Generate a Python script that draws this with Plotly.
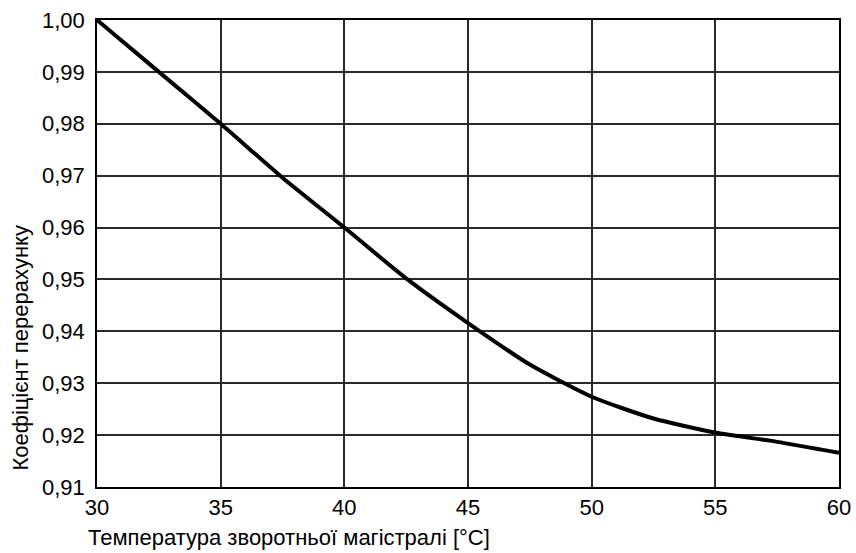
import plotly.graph_objects as go

temps = [30, 32.5, 35, 37.5, 40, 42.5, 45, 47.5, 50, 52.5, 55, 57.5, 60]
coef = [1.000, 0.9900, 0.9800, 0.9696, 0.9600, 0.9502, 0.9416, 0.9336, 0.9274, 0.9232, 0.9205, 0.9187, 0.9166]
x_ticks = [30, 35, 40, 45, 50, 55, 60]
y_ticks = [0.91, 0.92, 0.93, 0.94, 0.95, 0.96, 0.97, 0.98, 0.99, 1.00]
x_title = "Температура зворотньої магістралі [°C]"
y_title = "Коефіцієнт перерахунку"

FONT = "Liberation Sans, Arial, sans-serif"

fig = go.Figure()
fig.add_trace(go.Scatter(x=temps, y=coef, mode="lines",
                         line=dict(color="black", width=4, shape="spline", smoothing=0.6),
                         showlegend=False, hoverinfo="skip", cliponaxis=True))

fig.update_layout(
    width=856, height=553,
    autosize=False,
    margin=dict(l=97, r=17, t=20, b=66, pad=0, autoexpand=False),
    paper_bgcolor="white", plot_bgcolor="white",
    separators=", ",
    font=dict(family=FONT, size=22, color="black"),
    xaxis=dict(range=[30, 60], tickvals=x_ticks, ticktext=[str(v) for v in x_ticks],
               showgrid=True, gridcolor="#2a2a2a", gridwidth=1.5, automargin=False,
               showline=True, linecolor="black", linewidth=1.5, mirror=True,
               zeroline=False, ticks="", ticklabelstandoff=0, fixedrange=True),
    yaxis=dict(range=[0.91, 1.00], tickvals=y_ticks, tickformat=".2f",
               showgrid=True, gridcolor="#2a2a2a", gridwidth=1.5, automargin=False,
               showline=True, linecolor="black", linewidth=1.5, mirror=True,
               zeroline=False, ticks="", ticklabelstandoff=6, fixedrange=True),
    annotations=[
        dict(text=x_title, xref="paper", yref="paper", x=0, y=0,
             xanchor="left", yanchor="middle", xshift=-11, yshift=-50,
             showarrow=False, font=dict(family=FONT, size=22, color="black")),
        dict(text=y_title, xref="paper", yref="paper", x=0, y=0,
             xanchor="center", yanchor="bottom", xshift=-77, yshift=14, textangle=-90,
             showarrow=False, font=dict(family=FONT, size=22, color="black")),
    ],
)

fig.write_html("out.html",
               config={"displayModeBar": False, "responsive": False},
               post_script="document.body.style.margin='0';document.body.style.padding='0';")
